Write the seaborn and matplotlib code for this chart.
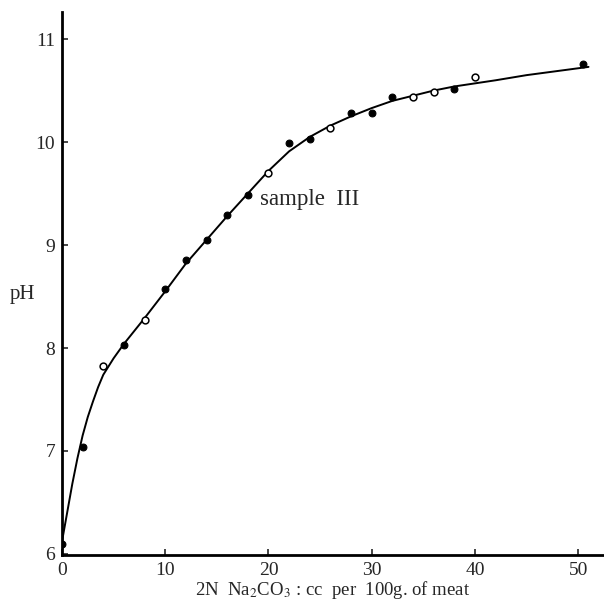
import numpy as np
import pandas as pd
import seaborn as sns
import matplotlib.pyplot as plt

na2co3_cc = [0, 2, 4, 6, 8, 10, 12, 14, 16, 18, 20,
             22, 24, 26, 28, 30, 32, 34, 36, 38, 40, 50.5]
ph_values = [6.10, 7.04, 7.83, 8.03, 8.27, 8.57, 8.85, 9.05, 9.29, 9.49, 9.70,
             9.99, 10.03, 10.14, 10.28, 10.28, 10.44, 10.44, 10.49, 10.52, 10.63, 10.76]
open_marker = [False, False, True, False, True, False, False, False, False, False, True,
               False, False, True, False, False, False, True, True, False, True, False]

# Fitted curve as drawn in the figure
curve_x = [0, 0.5, 1, 1.5, 2, 2.5, 3, 3.5, 4, 5, 6, 8, 10, 12, 14, 16, 18, 20,
           22, 24, 26, 28, 30, 32, 34, 36, 38, 40, 42, 45, 48, 51]
curve_ph = [6.12, 6.40, 6.68, 6.93, 7.15, 7.33, 7.48, 7.62, 7.74, 7.90, 8.04, 8.29,
            8.55, 8.82, 9.05, 9.28, 9.50, 9.72, 9.91, 10.05, 10.16, 10.25, 10.33,
            10.40, 10.45, 10.50, 10.54, 10.57, 10.60, 10.65, 10.69, 10.73]

points = pd.DataFrame({"cc": na2co3_cc, "pH": ph_values, "open": open_marker})
curve = pd.DataFrame({"cc": curve_x, "pH": curve_ph})

sns.set_style("ticks")
plt.rcParams["font.family"] = ["Liberation Serif", "DejaVu Serif"]
plt.rcParams["mathtext.fontset"] = "stix"

fig = plt.figure(figsize=(6.04, 6.07), dpi=100)
ax = fig.add_axes([0.1026, 0.0857, 0.8974, 0.894])

sns.lineplot(data=curve, x="cc", y="pH", ax=ax, color="black", linewidth=1.4)

filled = points[~points["open"]]
hollow = points[points["open"]]
sns.scatterplot(data=filled, x="cc", y="pH", ax=ax, color="black",
                s=24, edgecolor="black", linewidth=0.8, zorder=3)
sns.scatterplot(data=hollow, x="cc", y="pH", ax=ax, facecolor="white",
                s=24, edgecolor="black", linewidth=1.1, zorder=3)

ax.set_xlim(0, 52.5)
ax.set_ylim(5.99, 11.26)
ax.set_xticks([0, 10, 20, 30, 40, 50])
ax.set_yticks([6, 7, 8, 9, 10, 11])
ax.tick_params(direction="in", length=4, width=1.2, labelsize=14, pad=5)

for side in ["top", "right"]:
    ax.spines[side].set_visible(False)
for side in ["left", "bottom"]:
    ax.spines[side].set_linewidth(2)
    ax.spines[side].set_color("black")

ax.set_xlabel("2N  Na$_2$CO$_3$ : cc  per  100g. of meat", fontsize=13.5, labelpad=0)
ax.set_ylabel("")
fig.text(0.038, 0.515, "pH", fontsize=15, ha="center", va="center")

ax.text(19.2, 9.44, "sample  III", fontsize=16.5, ha="left", va="center")

fig.savefig("out.png", dpi=100)
